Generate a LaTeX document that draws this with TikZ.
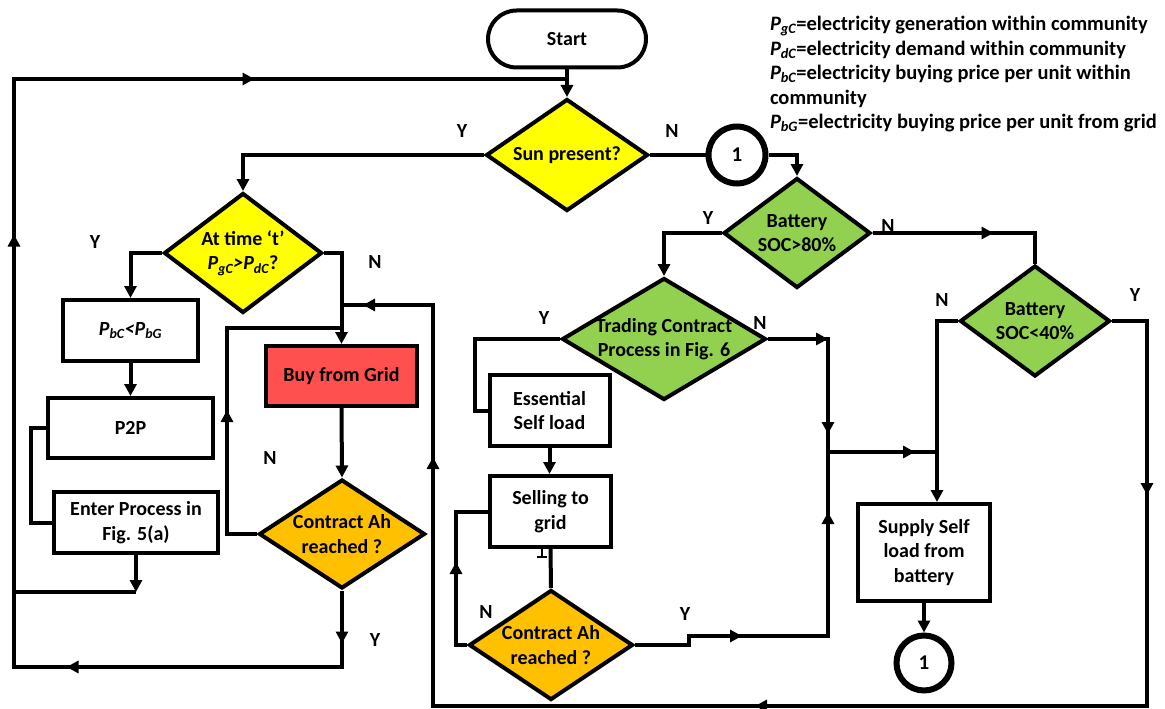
\documentclass[tikz,border=0pt]{standalone}
\usepackage{fontspec}
\setmainfont{Carlito}
\usetikzlibrary{arrows.meta,shapes.geometric,shapes.misc,decorations.markings}

\definecolor{sunyellow}{HTML}{FFFF00}
\definecolor{battgreen}{HTML}{92D050}
\definecolor{ahorange}{HTML}{FFC000}
\definecolor{gridred}{HTML}{FF5050}

% italic power symbol with italic subscript
\newcommand{\Pq}[1]{{\itshape P\textsubscript{#1}}}

\begin{document}
\begin{tikzpicture}[x=1pt,y=-1pt,
  line width=4pt,
  >={Triangle[length=12pt,width=12pt]},
  every node/.style={font=\bfseries\fontsize{20}{24.5}\selectfont},
  box/.style={draw, rectangle, align=center, inner sep=0pt, fill=white},
  dia/.style={draw, diamond, inner sep=0pt},
  term/.style={draw, rounded rectangle, inner sep=0pt},
  conn/.style={draw, circle, line width=6pt, inner sep=0pt, minimum size=#1,
               font=\bfseries\fontsize{21}{24}\selectfont},
  yn/.style={inner sep=0pt},
  tipat/.style={postaction={decorate,decoration={markings,mark=at position #1 with {\arrow{>}}}}},
]
\fill[white] (0,0) rectangle (1165,709);
\useasboundingbox (0,0) rectangle (1165,709);

% ---------- nodes ----------
\node[term, minimum width=158pt, minimum height=57pt] (start) at (567,39) {Start};

\node[dia, fill=sunyellow, minimum width=162pt, minimum height=112pt,
      label={center:Sun present?}] (sun) at (567,155) {};
\node[conn=57pt] (c1) at (737,155) {1};

\node[dia, fill=sunyellow, minimum width=158pt, minimum height=120pt,
      label={[align=center]center:At time ‘t’\\\Pq{gC}\textit{>}\Pq{dC}?}] (attime) at (243,253) {};

\node[box, minimum width=135pt, minimum height=61pt] (pbc) at (130.5,330.5) {\Pq{bC}\textit{<}\Pq{bG}};
\node[box, minimum width=165pt, minimum height=60pt] (p2p) at (130.5,428) {P2P};
\node[box, minimum width=164pt, minimum height=61pt] (enter) at (136,522.5) {Enter Process in\\Fig. 5(a)};

\node[box, fill=gridred, minimum width=151pt, minimum height=60pt] (buy) at (341.5,376) {Buy from Grid};
\node[dia, fill=ahorange, minimum width=166pt, minimum height=109pt,
      label={[align=center]center:Contract Ah\\reached ?}] (ah1) at (342,534) {};

\node[dia, fill=battgreen, minimum width=147pt, minimum height=110pt,
      label={[align=center]center:Battery\\SOC>80\%}] (bat80) at (797,233) {};
\node[dia, fill=battgreen, minimum width=204pt, minimum height=122pt,
      label={[align=center]center:Trading Contract\\Process in Fig. 6}] (trade) at (664,339) {};
\node[box, minimum width=120pt, minimum height=71pt] (ess) at (549.5,410.5) {Essential\\Self load};
\node[box, minimum width=121pt, minimum height=71pt] (sell) at (550.5,511.5) {Selling to\\grid};
\node[dia, fill=ahorange, minimum width=164pt, minimum height=110pt,
      label={[align=center]center:Contract Ah\\reached ?}] (ah2) at (551,645) {};

\node[dia, fill=battgreen, minimum width=150pt, minimum height=111pt,
      label={[align=center]center:Battery\\SOC<40\%}] (bat40) at (1035,321) {};
\node[box, minimum width=132pt, minimum height=97pt] (supply) at (924,552.5) {Supply Self\\load from\\battery};
\node[conn=55pt] (c2) at (924,663) {1};

% ---------- junction points ----------
\coordinate (jTop) at (567,79);
\coordinate (jB) at (341.5,328);
\coordinate (jR) at (341.5,305);
\coordinate (eJ) at (136,592);
\coordinate (eL) at (14,592);
\coordinate (jT) at (828,452);
\coordinate (jS) at (937,452);

% ---------- connectors ----------
\draw[->] (start.south) -- (sun.north);
\draw[->] (sun.west) -| (attime.north);
\draw (sun.east) -- (c1.west);
\draw[->] (c1.east) -| (bat80.north);

\draw[->] (attime.west) -| (pbc.north);
\draw[->] (attime.east) -| (buy.north);
\draw[->] (pbc.south) -- (p2p.north);
\draw (p2p.west) -- ++(-15,0) |- (enter.west);
\draw[->] (enter.south) -- (eJ);
\draw (eJ) -- (eL);

\draw[->] (buy.south) -- (ah1.north);
\draw[tipat=154pt] (ah1.west) -| (227,328) -- (jB);
\draw[tipat=53pt, tipat=352pt, tipat=837pt, tipat=1233pt]
  (ah1.south) -- (342,667) -- (14,667) -- (14,79) -- (jTop);

\draw[->] (bat80.west) -| (trade.north);
\draw[tipat=121pt] (bat80.east) -| (bat40.north);

\draw (trade.west) -- (475,339) |- (ess.west);
\draw[tipat=60pt, tipat=155pt] (trade.east) -- (828,339) -- (jT);
\draw[->] (ess.south) -- (ess.south |- sell.north);
\draw (sell.south) -- (ah2.north);
\draw[tipat=94pt] (ah2.west) -- (456,645) |- (sell.west);
\draw[tipat=116pt, tipat=326pt] (ah2.east) -- (689,645) -- (689,636) -- (828,636) -- (jT);
\draw[tipat=87pt] (jT) -- (jS);

\draw[->] (bat40.west) -| ([xshift=13pt]supply.north);
\draw[tipat=209pt, tipat=812pt, tipat=1383pt, tipat=1605pt]
  (bat40.east) -- (1147,321) -- (1147,706) -- (433,706) -- (433,305) -- (jR);
\draw[->] (supply.south) -- (c2.north);

% small tick under the selling box
\draw[line width=2.5pt] (542,548) -- (542,557) (537,557) -- (547,557);

% ---------- branch labels ----------
\node[yn] (ySun) at (462,131) {Y};
\node[yn] (nSun) at (672,131) {N};
\node[yn] (yAt) at (95,242) {Y};
\node[yn] (nAt) at (375,262) {N};
\node[yn] (nAh1) at (270,458) {N};
\node[yn] (yAh1) at (375,640) {Y};
\node[yn] (yB80) at (708,218) {Y};
\node[yn] (nB80) at (888,226) {N};
\node[yn] (yTr) at (544,318) {Y};
\node[yn] (nTr) at (760,323) {N};
\node[yn] (nAh2) at (486,612) {N};
\node[yn] (yAh2) at (685,614) {Y};
\node[yn] (nB40) at (942,300) {N};
\node[yn] (yB40) at (1135,295) {Y};

% ---------- legend ----------
\node[anchor=north west, align=left, inner sep=0pt,
      font=\bfseries\fontsize{20.5}{24.6}\selectfont] (legend) at (768,14)
  {\Pq{gC}=electricity generation within community\\
   \Pq{dC}=electricity demand within community\\
   \Pq{bC}=electricity buying price per unit within\\
   community\\
   \Pq{bG}=electricity buying price per unit from grid};
\end{tikzpicture}
\end{document}
